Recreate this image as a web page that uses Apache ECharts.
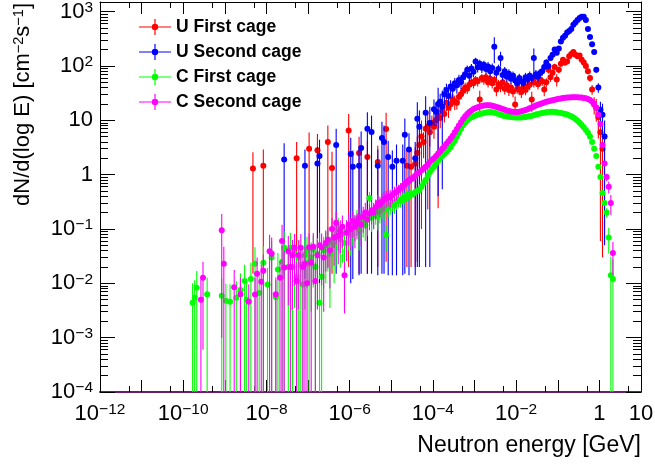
<!DOCTYPE html>
<html>
<head>
<meta charset="utf-8">
<script src="https://cdn.jsdelivr.net/npm/echarts@6/dist/echarts.min.js"></script>
<style>
  html, body { margin: 0; padding: 0; background: #ffffff; }
  #chart { width: 655px; height: 464px; }
</style>
</head>
<body>
<div id="chart"></div>
<script>
// Neutron energy spectra (flux per unit log E) for U and C targets, two cages each.
// Energies and fluxes are stored as log10(E / GeV) bin centres and flux values.

const FONT = '"Liberation Sans", Arial, Helvetica, sans-serif';
const BIN_WIDTH = 0.05;                 // log10(E) width of one spectrum bin
const X_MIN = -12, X_MAX = 1;           // 1e-12 .. 10 GeV
const Y_MIN = -4, Y_MAX = Math.log10(1500);

const seriesNames = ['U First cage', 'U Second cage', 'C First cage', 'C Second cage'];
const seriesColors = ['#ff0000', '#0000ff', '#00ff00', '#ff00ff'];
const xTickLabels = [-12, -10, -8, -6, -4, -2, 0, 1];
const yTickLabels = [-4, -3, -2, -1, 0, 1, 2, 3];

// ---------- U, first cage ----------
const uFirstSparseLogE = [-8.325, -8.075, -7.275, -6.975, -6.775, -6.525, -6.425, -6.025, -5.775, -5.575, -5.325, -5.125, -4.625, -4.525, -4.425];
const uFirstSparseFlux = [1.3, 1.45, 2.0, 3.0, 2.8, 4.0, 1.33, 6.5, 2.5, 2.1, 1.7, 6.9, 1.45, 1.4, 1.6];
const uFirstSparseErr  = [1.285, 1.435, 1.985, 2.98, 2.785, 3.98, 1.315, 6.48, 2.485, 2.085, 1.68, 6.875, 1.43, 1.38, 1.58];
const uFirstDenseStart = -4.375;
const uFirstDenseFlux = [
  2.5, 3.5, 5, 4, 7, 7.6, 6, 9, 7.6, 10,
  12, 11, 15, 13, 21, 17, 20, 24, 22, 21,
  27, 30, 35, 40, 38, 45, 50, 48, 55, 52,
  24, 60, 56, 62, 50, 58, 48, 55, 37, 46,
  42, 50, 38, 44, 36, 40, 34, 19.6, 38, 37,
  33, 40, 36, 42, 45, 24, 50, 63, 46, 56,
  52, 37, 50, 85, 62, 75, 96, 56, 85, 110,
  130, 115, 120, 150, 165, 180, 160, 150, 155, 130,
  115, 100, 80, 60, 37, 19.6, 17, 11.5, 6, 3
];
const uFirstDenseRelErr = [
  0.99, 0.6, 0.98, 0.5, 0.4, 0.97, 0.45, 0.35, 0.4, 0.3, 0.98, 0.35, 0.3, 0.3,
  0.3, 0.35, 0.25, 0.25, 0.3, 0.25, 0.22, 0.2, 0.2, 0.22, 0.2, 0.2, 0.18, 0.2,
  0.18, 0.2, 0.45, 0.18, 0.2, 0.18, 0.2, 0.2, 0.2, 0.2, 0.25, 0.2, 0.22, 0.2,
  0.22, 0.2, 0.22, 0.2, 0.22, 0.4, 0.2, 0.22, 0.22, 0.2, 0.2, 0.2, 0.2, 0.4,
  0.2, 0.18, 0.2, 0.18, 0.18, 0.25, 0.18, 0.15, 0.18, 0.15, 0.14, 0.25, 0.14, 0.12,
  0.1, 0.12, 0.1, 0.1, 0.08, 0.08, 0.08, 0.08, 0.08, 0.1, 0.1, 0.12, 0.12, 0.15,
  0.2, 0.35, 0.45, 0.6, 0.99, 0.99
];

// ---------- U, second cage ----------
const uSecondSparseLogE = [-7.575, -7.075, -6.775, -6.725, -6.325, -5.975, -5.925, -5.775, -5.725, -5.575, -5.475, -5.325, -5.225, -5.175, -5.075, -4.975, -4.875, -4.725, -4.675, -4.575, -4.425, -4.375, -4.325, -4.175, -4.075];
const uSecondSparseFlux = [1.9, 1.45, 1.6, 2.2, 3.5, 2.4, 1.4, 1.45, 3.1, 7.0, 6.1, 1.45, 4.7, 4.0, 2.1, 1.4, 1.8, 1.8, 5.4, 2.9, 2.0, 10.7, 7.6, 13.8, 8.9];
const uSecondSparseErr  = [1.888, 1.438, 1.588, 2.19, 3.485, 2.39, 1.388, 1.436, 3.085, 6.985, 6.085, 1.436, 4.685, 3.985, 2.086, 1.386, 1.786, 1.786, 5.385, 2.886, 1.986, 10.68, 7.58, 13.78, 8.88];
const uSecondDenseStart = -3.975;
const uSecondDenseFlux = [
  16, 14.4, 20, 22, 18, 30, 36, 28, 42, 38,
  48, 44, 55, 50, 62, 70, 85, 66, 90, 78,
  120, 95, 110, 93, 105, 88, 98, 80, 92, 225,
  75, 88, 140, 68, 80, 63, 72, 58, 66, 54,
  48, 60, 52, 49, 62, 56, 66, 60, 140, 70,
  64, 74, 80, 96, 115, 100, 140, 160, 200, 175,
  210, 280, 330, 360, 410, 440, 480, 570, 630, 700,
  760, 805, 800, 700, 480, 340, 250, 180, 85, 40,
  15.6, 12.6, 5
];
const uSecondDenseRelErr = [
  0.5, 0.45, 0.98, 0.4, 0.97, 0.35, 0.3, 0.35, 0.3, 0.3,
  0.25, 0.3, 0.25, 0.25, 0.22, 0.2, 0.2, 0.22, 0.2, 0.2,
  0.18, 0.2, 0.18, 0.2, 0.18, 0.2, 0.2, 0.2, 0.2, 0.5,
  0.2, 0.2, 0.3, 0.2, 0.2, 0.2, 0.2, 0.2, 0.2, 0.2,
  0.22, 0.2, 0.2, 0.22, 0.2, 0.2, 0.2, 0.2, 0.5, 0.2,
  0.2, 0.18, 0.18, 0.15, 0.15, 0.15, 0.12, 0.12, 0.1, 0.1,
  0.08, 0.08, 0.07, 0.06, 0.06, 0.05, 0.05, 0.05, 0.04, 0.04,
  0.04, 0.04, 0.04, 0.04, 0.05, 0.06, 0.07, 0.08, 0.12, 0.2,
  0.4, 0.6, 0.99
];

// ---------- C, first cage ----------
const cFirstSparseLogE = [-9.775, -9.725, -9.675, -9.425, -9.075, -8.975, -8.875, -8.725, -8.625, -8.525, -8.475, -8.375, -8.275, -8.175, -8.075, -7.975, -7.875, -7.775, -7.725, -7.625, -7.575];
const cFirstSparseFlux = [0.0044, 0.0054, 0.0083, 0.0063, 0.0059, 0.0048, 0.0046, 0.0054, 0.0075, 0.011, 0.005, 0.012, 0.023, 0.0066, 0.024, 0.0095, 0.03, 0.0056, 0.018, 0.025, 0.045];
const cFirstSparseErr  = [0.0056, 0.006, 0.0085, 0.0065, 0.0062, 0.005, 0.005, 0.0056, 0.0078, 0.011, 0.0052, 0.012, 0.023, 0.0068, 0.024, 0.0097, 0.03, 0.0058, 0.018, 0.025, 0.045];
const cFirstDenseStart = -7.475;
const cFirstDenseFlux = [
  0.02, 0.045, 0.02, 0.035, 0.013, 0.03, 0.022, 0.0095, 0.033, 0.04,
  0.025, 0.03, 0.042, 0.02, 0.035, 0.0044, 0.0132, 0.04, 0.05, 0.055,
  0.035, 0.06, 0.05, 0.07, 0.1, 0.065, 0.08, 0.055, 0.09, 0.1,
  0.08, 0.11, 0.12, 0.15, 0.1, 0.13, 0.14, 0.12, 0.15, 0.37,
  0.16, 0.18, 0.2, 0.17, 0.21, 0.24, 0.22, 0.078, 0.25, 0.28,
  0.3, 0.27, 0.32, 0.35, 0.33, 0.38, 0.36, 0.42, 0.4, 0.45,
  0.44, 0.48, 0.5, 0.52, 0.6, 0.7, 0.8, 0.95, 1.1, 1.25,
  1.4, 1.6, 1.8, 2.0, 2.2, 2.4, 2.6, 2.9, 3.2, 3.7,
  4.2, 5.0, 5.9, 7.0, 8.1, 9.1, 10.0, 10.8, 11.4, 11.9,
  12.3, 12.7, 13.0, 13.3, 13.6, 13.9, 14.1, 14.2, 14.1, 13.8,
  13.4, 13.0, 12.6, 12.3, 12.0, 11.8, 11.6, 11.5, 11.4, 11.3,
  11.2, 11.2, 11.3, 11.4, 11.5, 11.7, 11.9, 12.1, 12.4, 12.7,
  13.0, 13.3, 13.6, 13.8, 14.0, 14.2, 14.3, 14.3, 14.2, 14.0,
  13.8, 13.6, 13.3, 13.0, 12.7, 12.3, 11.9, 11.3, 10.6, 9.8,
  9.0, 8.2, 7.4, 6.6, 5.9, 5.0, 4.0, 3.0, 2.2, 1.4,
  0.9, 0.46, 0.3, 0.2, 0.07, 0.014, 0.012
];
const cFirstRelErrHead = [
  1.0, 0.9, 1.1, 0.9, 1.3, 1.0, 1.0, 1.2, 0.9, 0.8,
  1.0, 0.9, 0.8, 1.0, 0.9, 1.3, 1.1, 0.8, 0.8, 0.7,
  0.9, 0.7, 0.8, 0.7, 0.6, 0.7, 0.7, 0.8, 0.6, 0.6,
  0.6, 0.55, 0.5, 0.5, 0.6, 0.5, 0.5, 0.5, 0.5, 0.3,
  0.45, 0.45, 0.4, 0.45, 0.4, 0.35, 0.35, 0.5, 0.35, 0.35,
  0.3, 0.3, 0.3, 0.28, 0.25, 0.25, 0.22, 0.2, 0.2, 0.18,
  0.15, 0.15, 0.12, 0.12, 0.1, 0.1, 0.08, 0.08, 0.07, 0.06
];
const cFirstRelErrTail = [0.03, 0.05, 0.08, 0.12, 0.2, 0.5, 1.2, 1.3];

// ---------- C, second cage ----------
const cSecondSparseLogE = [-9.575, -9.525, -9.075, -9.025, -8.775, -8.625, -8.425, -8.275, -8.225, -8.125, -8.075, -7.925, -7.875, -7.775, -7.675, -7.625, -7.575];
const cSecondSparseFlux = [0.005, 0.0126, 0.095, 0.023, 0.0085, 0.0063, 0.0046, 0.0062, 0.015, 0.0107, 0.017, 0.039, 0.035, 0.0063, 0.0126, 0.06, 0.0195];
const cSecondSparseErr  = [0.0067, 0.012, 0.094, 0.024, 0.009, 0.0065, 0.005, 0.0065, 0.015, 0.011, 0.017, 0.039, 0.035, 0.0065, 0.013, 0.06, 0.02];
const cSecondDenseStart = -7.475;
const cSecondDenseFlux = [
  0.039, 0.02, 0.033, 0.045, 0.011, 0.033, 0.045, 0.02, 0.023, 0.01,
  0.046, 0.024, 0.047, 0.011, 0.033, 0.05, 0.046, 0.03, 0.055, 0.063,
  0.04, 0.1, 0.07, 0.13, 0.075, 0.09, 0.11, 0.014, 0.085, 0.12,
  0.1, 0.14, 0.11, 0.13, 0.16, 0.12, 0.17, 0.2, 0.15, 0.19,
  0.22, 0.2, 0.25, 0.3, 0.28, 0.32, 0.35, 0.37, 0.4, 0.38,
  0.42, 0.46, 0.48, 0.52, 0.56, 0.62, 0.68, 0.73, 0.78, 0.82,
  0.88, 0.95, 1.05, 1.1, 1.2, 1.3, 1.4, 1.55, 1.7, 1.85,
  2.0, 2.2, 2.45, 2.7, 3.0, 3.3, 3.7, 4.1, 4.6, 5.2,
  6.0, 6.9, 8.0, 9.2, 10.5, 11.8, 13.0, 14.2, 15.2, 16.1,
  16.8, 17.4, 17.9, 18.3, 18.6, 18.8, 18.9, 18.8, 18.5, 18.1,
  17.6, 17.1, 16.6, 16.1, 15.6, 15.2, 14.8, 14.5, 14.3, 14.2,
  14.2, 14.3, 14.6, 15.0, 15.5, 16.0, 16.6, 17.2, 17.9, 18.6,
  19.3, 20.0, 20.6, 21.2, 21.8, 22.3, 22.8, 23.3, 23.8, 24.3,
  24.8, 25.2, 25.6, 25.9, 26.1, 26.3, 26.4, 26.5, 26.5, 26.4,
  26.3, 26.1, 25.8, 25.3, 24.6, 23.5, 22.0, 20.0, 17.0, 12.6,
  8.5, 3.5, 1.6, 0.9, 0.6, 0.3, 0.036
];
const cSecondRelErrHead = [
  0.9, 1.0, 0.9, 0.8, 1.2, 0.9, 0.8, 1.0, 1.0, 1.2,
  0.8, 1.0, 0.8, 1.2, 0.9, 0.7, 0.8, 0.9, 0.7, 0.7,
  0.8, 0.6, 0.7, 0.6, 0.7, 0.6, 0.6, 0.8, 0.7, 0.6,
  0.6, 0.5, 0.6, 0.5, 0.5, 0.6, 0.5, 0.5, 0.5, 0.5,
  0.45, 0.5, 0.4, 0.4, 0.4, 0.4, 0.4, 0.35, 0.35, 0.35,
  0.3, 0.3, 0.3, 0.25, 0.25, 0.25, 0.22, 0.2, 0.2, 0.18,
  0.15, 0.15, 0.12, 0.12, 0.1, 0.1, 0.08, 0.08, 0.07, 0.06
];
const cSecondRelErrTail = [0.03, 0.04, 0.06, 0.1, 0.15, 0.25, 0.4, 0.6];

// ---------- point builders: [log10 E, log10 flux, log10 low, log10 high] ----------
function errPoint(logE, v, d) {
  const lowVal = v - d;
  const low = lowVal > 0 ? Math.log10(lowVal) : Y_MIN - 1;
  return [logE, Math.log10(v), low, Math.log10(v + d)];
}
function sparsePoints(logE, flux, err) {
  return logE.map((e, i) => errPoint(e, flux[i], err[i]));
}
function densePoints(start, flux, relHead, relTail) {
  const n = flux.length;
  const tailStart = n - relTail.length;
  return flux.map((v, i) => {
    let rel = i < relHead.length ? relHead[i] : 0;
    if (i >= tailStart) rel = relTail[i - tailStart];
    return errPoint(start + i * BIN_WIDTH, v, v * rel);
  });
}

const seriesData = [
  sparsePoints(uFirstSparseLogE, uFirstSparseFlux, uFirstSparseErr)
    .concat(densePoints(uFirstDenseStart, uFirstDenseFlux, uFirstDenseRelErr, [])),
  sparsePoints(uSecondSparseLogE, uSecondSparseFlux, uSecondSparseErr)
    .concat(densePoints(uSecondDenseStart, uSecondDenseFlux, uSecondDenseRelErr, [])),
  sparsePoints(cFirstSparseLogE, cFirstSparseFlux, cFirstSparseErr)
    .concat(densePoints(cFirstDenseStart, cFirstDenseFlux, cFirstRelErrHead, cFirstRelErrTail)),
  sparsePoints(cSecondSparseLogE, cSecondSparseFlux, cSecondSparseErr)
    .concat(densePoints(cSecondDenseStart, cSecondDenseFlux, cSecondRelErrHead, cSecondRelErrTail))
];

// Marker with vertical error bar
function makeRenderer(color) {
  return function (params, api) {
    const p = api.coord([api.value(0), api.value(1)]);
    const lo = api.coord([api.value(0), api.value(2)]);
    const hi = api.coord([api.value(0), api.value(3)]);
    return {
      type: 'group',
      children: [
        { type: 'line', shape: { x1: p[0], y1: lo[1], x2: p[0], y2: hi[1] },
          style: { stroke: color, lineWidth: 1.1 } },
        { type: 'circle', shape: { cx: p[0], cy: p[1], r: 3 },
          style: { fill: color } }
      ]
    };
  };
}

// ---------- tick positions (decades and sub-decades) ----------
const majorX = [];
for (let n = X_MIN; n <= X_MAX; n++) majorX.push(n);
const minorX = [];
for (let n = X_MIN; n < X_MAX; n++) minorX.push(n + Math.log10(5));
const majorY = [];
for (let n = Y_MIN; n <= 3; n++) majorY.push(n);
const minorY = [];
for (let n = Y_MIN; n <= 3; n++) {
  for (let k = 2; k <= 9; k++) {
    const v = n + Math.log10(k);
    if (v < Y_MAX) minorY.push(v);
  }
}

function powerLabel(value) {
  const n = Math.round(value);
  if (n === 0) return '{b|1}';
  if (n === 1) return '{b|10}';
  return '{b|10}{s|' + (n < 0 ? '\u2212' + (-n) : String(n)) + '}';
}
const labelRich = {
  b: { fontFamily: FONT, fontSize: 22, lineHeight: 24, color: '#000' },
  s: { fontFamily: FONT, fontSize: 15.5, lineHeight: 12, verticalAlign: 'top', color: '#000' }
};

function xAxisCfg(position, ticks, len, withLabels, withLine) {
  return {
    type: 'value', position: position, min: X_MIN, max: X_MAX, interval: 1,
    axisLine: {
      show: withLine, onZero: false,
      lineStyle: position === 'bottom' ? { color: '#6e1a6e', width: 2 } : { color: '#000', width: 1 }
    },
    axisTick: { show: true, inside: true, length: len, customValues: ticks,
      lineStyle: { color: '#000', width: 1 } },
    axisLabel: withLabels ? {
      show: true, customValues: xTickLabels, margin: 10, formatter: powerLabel, rich: labelRich
    } : { show: false },
    splitLine: { show: false }
  };
}
function yAxisCfg(position, ticks, len, withLabels, withLine) {
  return {
    type: 'value', position: position, min: Y_MIN, max: Y_MAX, interval: 1,
    axisLine: { show: withLine, onZero: false, lineStyle: { color: '#000', width: 1 } },
    axisTick: { show: true, inside: true, length: len, customValues: ticks,
      lineStyle: { color: '#000', width: 1 } },
    axisLabel: withLabels ? {
      show: true, customValues: yTickLabels, margin: 7, formatter: powerLabel, rich: labelRich
    } : { show: false },
    splitLine: { show: false }
  };
}

const LEGEND_ICON = 'path://M0,0H0.01V0.01H0Z M0,19.99H0.01V20H0Z M0,9.4H32V10.6H0Z M15.4,2H16.6V18H15.4Z M12.8,10A3.2,3.2 0 1 1 19.2,10A3.2,3.2 0 1 1 12.8,10Z';

const chart = echarts.init(document.getElementById('chart'), null, { renderer: 'canvas' });
chart.setOption({
  animation: false,
  backgroundColor: '#ffffff',
  grid: { left: 100, right: 14, top: 2, bottom: 72, containLabel: false, outerBoundsMode: 'none' },
  xAxis: [
    xAxisCfg('bottom', majorX, 12, true, true),
    xAxisCfg('bottom', minorX, 6, false, false),
    xAxisCfg('top', majorX, 12, false, true),
    xAxisCfg('top', minorX, 6, false, false)
  ],
  yAxis: [
    yAxisCfg('left', majorY, 15, true, true),
    yAxisCfg('left', minorY, 8, false, false),
    yAxisCfg('right', majorY, 15, false, true),
    yAxisCfg('right', minorY, 8, false, false)
  ],
  legend: {
    orient: 'vertical', left: 134, top: 12, itemWidth: 32, itemHeight: 20, itemGap: 5,
    selectedMode: false,
    textStyle: { fontFamily: FONT, fontSize: 17.5, fontWeight: 'bold', color: '#000' },
    data: seriesNames.map(name => ({ name: name, icon: LEGEND_ICON }))
  },
  series: seriesNames.map((name, i) => ({
    name: name,
    type: 'custom',
    xAxisIndex: 0,
    yAxisIndex: 0,
    clip: true,
    itemStyle: { color: seriesColors[i] },
    encode: { x: 0, y: [1, 2, 3] },
    renderItem: makeRenderer(seriesColors[i]),
    data: seriesData[i]
  })),
  graphic: [
    {
      type: 'text', x: 641, y: 446,
      style: { text: 'Neutron energy [GeV]', fontFamily: FONT, fontSize: 23, fill: '#000',
        align: 'right', verticalAlign: 'middle' }
    },
    {
      type: 'text', x: 23, y: 3, rotation: Math.PI / 2,
      style: {
        text: '{t|dN/d(log E) [cm}{s|\u22122}{t|s}{s|\u22121}{t|]}',
        align: 'right', verticalAlign: 'middle', fill: '#000',
        rich: {
          t: { fontFamily: FONT, fontSize: 22, lineHeight: 23, fill: '#000' },
          s: { fontFamily: FONT, fontSize: 14.5, lineHeight: 12, verticalAlign: 'top', fill: '#000' }
        }
      }
    }
  ]
});
</script>
</body>
</html>
